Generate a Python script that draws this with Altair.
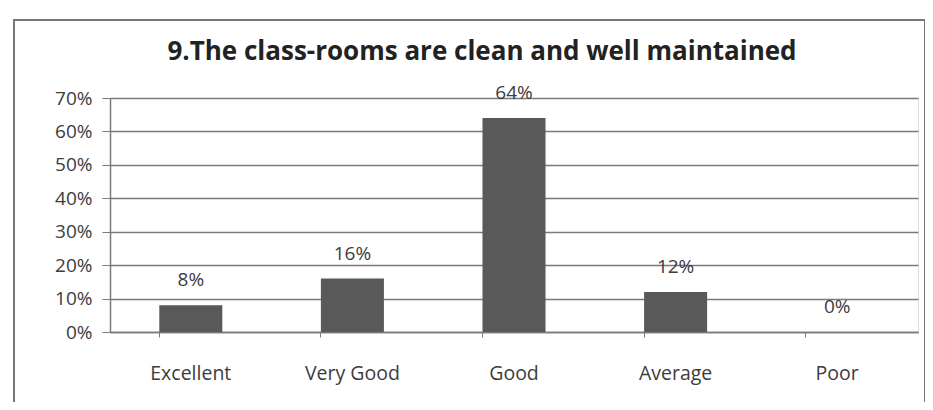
import altair as alt
import pandas as pd

categories = ["Excellent", "Very Good", "Good", "Average", "Poor"]
values = [0.08, 0.16, 0.64, 0.12, 0.0]
labels = ["8%", "16%", "64%", "12%", "0%"]
y_ticks = [0, 0.1, 0.2, 0.3, 0.4, 0.5, 0.6, 0.7]
title_text = "9.The class-rooms are clean and well maintained"

df = pd.DataFrame({"cat": categories, "val": values, "lab": labels})

FONT = "Open Sans"
TXT = "#3c3c3c"

x = alt.X("cat:N", sort=categories, title=None,
          scale=alt.Scale(paddingInner=0.61, paddingOuter=0.305),
          axis=alt.Axis(labelAngle=0, labelFontSize=19.5, labelColor=TXT, labelFont=FONT,
                        labelPadding=27, domainColor="#7a7a7a", tickColor="#7a7a7a",
                        domainWidth=1.5, tickSize=5, bandPosition=0, grid=False))
y = alt.Y("val:Q", title=None,
          scale=alt.Scale(domain=[0, 0.7]),
          axis=alt.Axis(format=".0%", values=y_ticks,
                        labelFontSize=19, labelColor=TXT, labelFont=FONT,
                        labelPadding=10, tickSize=8, tickColor="#7a7a7a", domainColor="#7a7a7a",
                        domainWidth=1.5, gridColor="#7a7a7a", gridWidth=1.5))

frame = alt.Chart(df).mark_rect(fill=None, stroke="#777", strokeWidth=2).encode(
    x=alt.value(-96), x2=alt.value(815), y=alt.value(-78), y2=alt.value(330))

bars = alt.Chart(df).mark_bar(color="#595959").encode(x=x, y=y)
text = alt.Chart(df).mark_text(dy=-25, fontSize=19, color=TXT, font=FONT).encode(
    x=x, y=y, text="lab:N")

chart = alt.layer(frame, bars, text).properties(
    width=808, height=234,
    title=alt.TitleParams(title_text, font=FONT, fontSize=26, fontWeight="bold",
                          color="#222", anchor="middle", dx=-32, offset=-46, frame="group"),
    autosize=alt.AutoSizeParams(type="none"),
    padding={"left": 102, "top": 90, "right": 7, "bottom": 70},
).configure_view(strokeWidth=0).configure(background="white")

chart.save("out.html", embed_options={"renderer": "svg", "actions": False})
